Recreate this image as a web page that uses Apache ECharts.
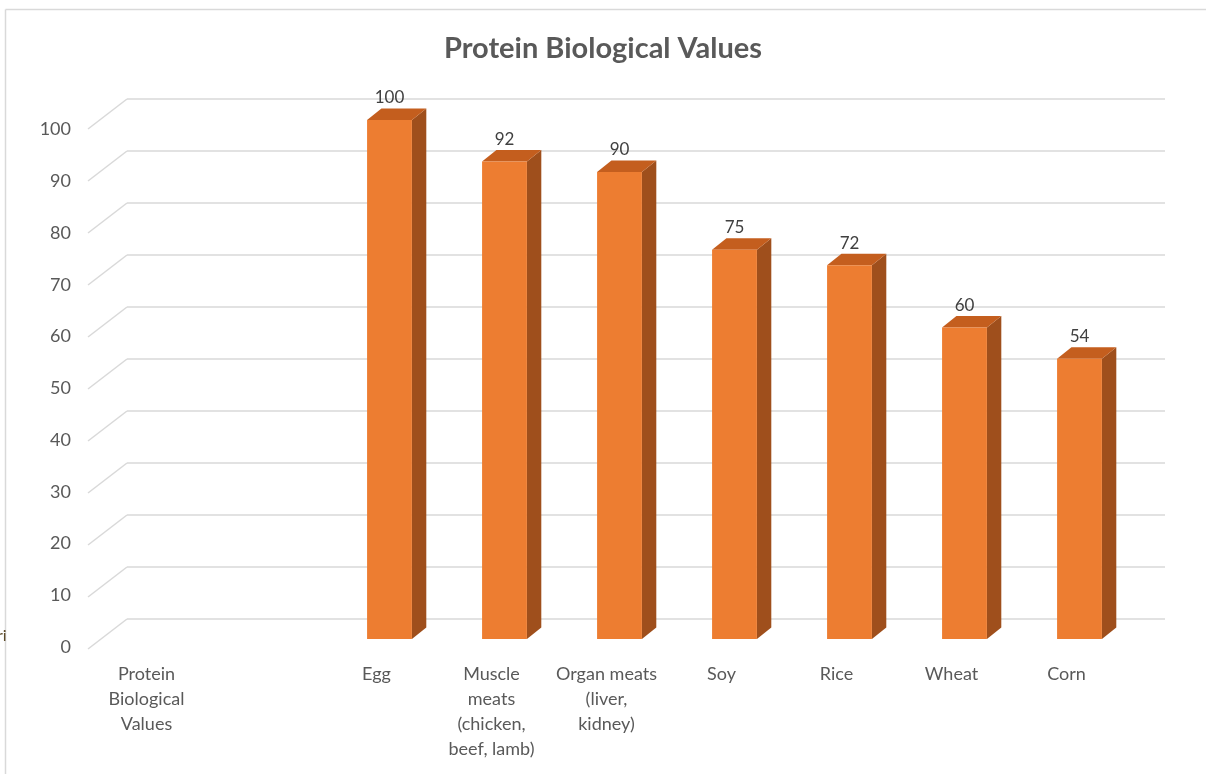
<!DOCTYPE html>
<html>
<head>
<meta charset="utf-8">
<script src="https://cdn.jsdelivr.net/npm/echarts@6/dist/echarts.min.js"></script>
<style>
  html, body { margin: 0; padding: 0; background: #ffffff; }
  #chart { width: 1206px; height: 774px; }
</style>
</head>
<body>
<div id="chart"></div>
<script>
// Protein sources and their biological value scores
const categories = [
  'Protein\nBiological\nValues',
  '',
  'Egg',
  'Muscle\nmeats\n(chicken,\nbeef, lamb)',
  'Organ meats\n(liver,\nkidney)',
  'Soy',
  'Rice',
  'Wheat',
  'Corn'
];
const values = [null, null, 100, 92, 90, 75, 72, 60, 54];

// Value axis ticks
const yMin = 0;
const yMax = 100;
const yStep = 10;
const gridValues = [0, 10, 20, 30, 40, 50, 60, 70, 80, 90, 100];

const FONT = 'Lato, "Open Sans", sans-serif';
const FRONT = '#ED7D31';
const SIDE = '#9F4F1C';
const TOP = '#C45E1E';

const barData = [];
values.forEach((v, i) => { if (v !== null) barData.push([i, v]); });

const chart = echarts.init(document.getElementById('chart'));

chart.setOption({
  backgroundColor: '#ffffff',
  animation: false,
  title: {
    text: 'Protein Biological Values',
    left: 'center',
    top: 29,
    textStyle: { fontFamily: FONT, fontWeight: 'bold', fontSize: 29, color: '#595959' }
  },
  graphic: [
    { type: 'line', shape: { x1: 5.5, y1: 9.5, x2: 5.5, y2: 774 }, style: { stroke: '#d9d9d9', lineWidth: 1.5 }, silent: true },
    { type: 'line', shape: { x1: 5.5, y1: 9.5, x2: 1206, y2: 9.5 }, style: { stroke: '#d9d9d9', lineWidth: 1.5 }, silent: true },
    { type: 'text', left: -3, top: 628, style: { text: 'ri', fontFamily: FONT, fontSize: 16, fill: '#5b4a2a' }, silent: true }
  ],
  grid: [
    // back wall
    { left: 127, right: 41, top: 99, bottom: 155 },
    // front edge of the floor (axis labels)
    { left: 89, right: 82, top: 129.5, bottom: 127 },
    // bar plane
    { left: 102, right: 69, top: 120, bottom: 135 }
  ],
  xAxis: [
    { gridIndex: 0, type: 'value', min: 0, max: 1, show: false },
    {
      gridIndex: 1, type: 'category', data: categories,
      axisLine: { show: false }, axisTick: { show: false },
      axisLabel: {
        interval: 0, margin: 15, fontFamily: FONT, fontSize: 18,
        lineHeight: 25, color: '#595959', align: 'center'
      }
    },
    { gridIndex: 2, type: 'category', data: categories, show: false }
  ],
  yAxis: [
    {
      gridIndex: 0, type: 'value', min: yMin, max: yMax, interval: yStep,
      axisLine: { show: false }, axisTick: { show: false }, axisLabel: { show: false },
      splitLine: { show: true, lineStyle: { color: '#d9d9d9', width: 1.5 } }
    },
    {
      gridIndex: 1, type: 'value', min: yMin, max: yMax, interval: yStep,
      axisLine: { show: false }, axisTick: { show: false }, splitLine: { show: false },
      axisLabel: { margin: 18, fontFamily: FONT, fontSize: 18, color: '#595959' }
    },
    { gridIndex: 2, type: 'value', min: yMin, max: yMax, show: false }
  ],
  series: [
    {
      // slanted side-wall gridline segments
      type: 'custom',
      xAxisIndex: 0, yAxisIndex: 0,
      data: gridValues.map(v => [0, v]),
      silent: true,
      renderItem: function (params, api) {
        const p = api.coord([0, api.value(1)]);
        return {
          type: 'line',
          shape: { x1: p[0], y1: p[1], x2: p[0] - 39, y2: p[1] + 30 },
          style: { stroke: '#d9d9d9', lineWidth: 1.5 }
        };
      }
    },
    {
      // 3D columns
      type: 'custom',
      xAxisIndex: 2, yAxisIndex: 2,
      data: barData,
      renderItem: function (params, api) {
        const i = api.value(0);
        const v = api.value(1);
        const top = api.coord([i, v]);
        const base = api.coord([i, 0]);
        const band = api.size([1, 0])[0];
        const w = band * 0.39;
        const dx = band * 0.125;
        const dy = -dx * 0.8;
        const x0 = top[0] - w / 2;
        const x1 = top[0] + w / 2;
        return {
          type: 'group',
          children: [
            {
              type: 'polygon',
              shape: { points: [[x1, top[1]], [x1 + dx, top[1] + dy], [x1 + dx, base[1] + dy], [x1, base[1]]] },
              style: { fill: SIDE }
            },
            {
              type: 'polygon',
              shape: { points: [[x0, top[1]], [x0 + dx, top[1] + dy], [x1 + dx, top[1] + dy], [x1, top[1]]] },
              style: { fill: TOP }
            },
            {
              type: 'rect',
              shape: { x: x0, y: top[1], width: w, height: base[1] - top[1] },
              style: { fill: FRONT }
            },
            {
              type: 'text',
              x: top[0],
              y: top[1] - 22,
              style: {
                text: String(v), fontFamily: FONT, fontSize: 17, fill: '#404040',
                align: 'center', verticalAlign: 'middle'
              }
            }
          ]
        };
      }
    }
  ]
});
</script>
</body>
</html>
